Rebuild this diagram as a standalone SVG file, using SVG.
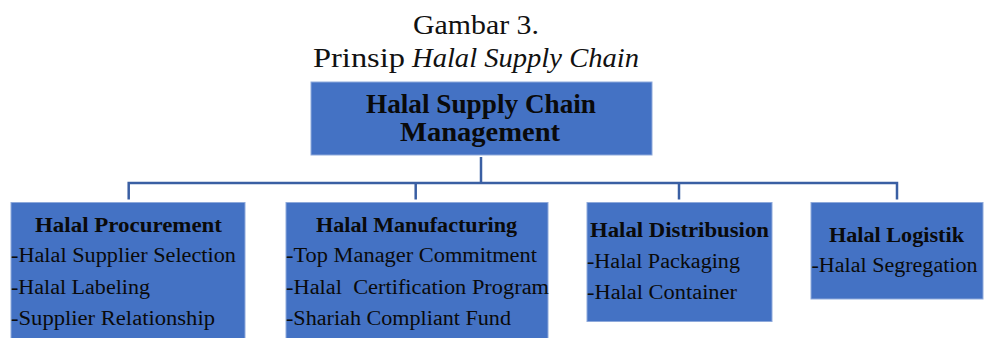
<svg xmlns="http://www.w3.org/2000/svg" width="984" height="338" viewBox="0 0 984 338">
<style>
.box{fill:#4472C4;stroke:#8EA9DB;stroke-width:1}
.cap{font-family:"Liberation Serif","Times New Roman",serif;fill:#111;font-size:28px}
.hd{font-family:"Liberation Serif","Times New Roman",serif;font-weight:bold;fill:#0a0a0a;font-size:20px}
.big{font-family:"Liberation Serif","Times New Roman",serif;font-weight:bold;fill:#0a0a0a;font-size:27px}
.it{font-family:"Liberation Serif","Times New Roman",serif;fill:#0a0a0a;font-size:20px}
.con{fill:none;stroke:#3A5FA3;stroke-width:2.5}
</style>
<rect width="984" height="338" fill="#fff"/>
<g id="caption">
<text class="cap" x="413" y="33.5" textLength="126" lengthAdjust="spacingAndGlyphs">Gambar 3.</text>
<text class="cap" x="313" y="66.5" textLength="92" lengthAdjust="spacingAndGlyphs">Prinsip</text>
<text class="cap" x="412" y="66.5" font-style="italic" textLength="227" lengthAdjust="spacingAndGlyphs">Halal Supply Chain</text>
</g>
<g id="connectors">
<path class="con" d="M481,157 V183 M128.7,199.5 V183 H897 V199.5 M415.7,183 V199.5 M679,183 V199.5"/>
</g>
<g id="root">
<rect class="box" x="311" y="82" width="341" height="73"/>
<text class="big" x="366" y="113" textLength="230" lengthAdjust="spacingAndGlyphs">Halal Supply Chain</text>
<text class="big" x="400" y="141" textLength="160" lengthAdjust="spacingAndGlyphs">Management</text>
</g>
<g id="procurement">
<rect class="box" x="11" y="202.5" width="234" height="140"/>
<text class="hd" x="35" y="232" textLength="187" lengthAdjust="spacingAndGlyphs">Halal Procurement</text>
<text class="it" x="11" y="262.3" textLength="225" lengthAdjust="spacingAndGlyphs">-Halal Supplier Selection</text>
<text class="it" x="11" y="294" textLength="139" lengthAdjust="spacingAndGlyphs">-Halal Labeling</text>
<text class="it" x="11" y="325.3" textLength="204" lengthAdjust="spacingAndGlyphs">-Supplier Relationship</text>
</g>
<g id="manufacturing">
<rect class="box" x="286" y="202.5" width="262" height="140"/>
<text class="hd" x="316" y="232" textLength="201" lengthAdjust="spacingAndGlyphs">Halal Manufacturing</text>
<text class="it" x="286" y="262.3" textLength="251" lengthAdjust="spacingAndGlyphs">-Top Manager Commitment</text>
<text class="it" x="286" y="294" textLength="263" lengthAdjust="spacingAndGlyphs" xml:space="preserve">-Halal  Certification Program</text>
<text class="it" x="286" y="325.3" textLength="225" lengthAdjust="spacingAndGlyphs">-Shariah Compliant Fund</text>
</g>
<g id="distribution">
<rect class="box" x="587" y="202.5" width="185" height="119"/>
<text class="hd" x="590" y="237.3" textLength="179" lengthAdjust="spacingAndGlyphs">Halal Distribusion</text>
<text class="it" x="587" y="268.3" textLength="153" lengthAdjust="spacingAndGlyphs">-Halal Packaging</text>
<text class="it" x="587" y="299" textLength="150" lengthAdjust="spacingAndGlyphs">-Halal Container</text>
</g>
<g id="logistik">
<rect class="box" x="811" y="202.5" width="172" height="96.5"/>
<text class="hd" x="829" y="242" textLength="135" lengthAdjust="spacingAndGlyphs">Halal Logistik</text>
<text class="it" x="811.5" y="271.5" textLength="166" lengthAdjust="spacingAndGlyphs">-Halal Segregation</text>
</g>
</svg>
